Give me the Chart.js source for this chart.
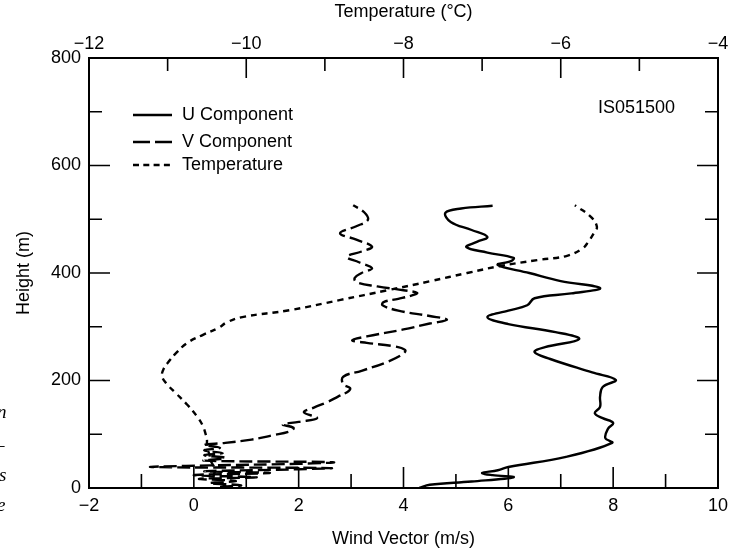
<!DOCTYPE html>
<html>
<head>
<meta charset="utf-8">
<script src="https://cdn.jsdelivr.net/npm/chart.js@4.4.1/dist/chart.umd.min.js"></script>
<style>
  body { margin: 0; background: #fff; }
  #wrap { width: 732px; height: 554px; position: relative; }
</style>
</head>
<body>
<div id="wrap"><canvas id="profileChart" width="732" height="554"></canvas></div>
<script>
// heights (m) and values
var uHeights = [0, 6, 12, 20, 24, 28, 33, 39, 58, 84, 93, 110, 121, 130, 139, 151, 170, 188, 201, 215, 240, 253, 262, 277, 290, 305, 318, 330, 340, 353, 362, 372, 385, 400, 415, 422, 428, 438, 448, 458, 467, 480, 495, 512, 520, 525];
var uWind = [4.3, 4.5, 5.3, 6.1, 5.7, 5.5, 5.8, 6.0, 7.1, 7.98, 7.85, 7.9, 8.0, 7.8, 7.65, 7.75, 7.75, 7.8, 8.05, 7.6, 6.8, 6.5, 6.7, 7.35, 6.9, 6.0, 5.6, 6.0, 6.36, 6.5, 7.2, 7.75, 7.0, 6.4, 5.8, 6.05, 6.1, 5.6, 5.2, 5.4, 5.6, 5.3, 4.9, 4.8, 5.1, 5.7];

var vHeights = [2, 5, 9, 13, 17, 20, 24, 28, 31, 34, 37, 39, 42, 45, 48, 51, 56, 61, 65, 70, 75, 80, 84, 90, 98, 106, 112, 118, 123, 130, 141, 150, 160, 170, 180, 186, 193, 207, 218, 235, 250, 257, 264, 270, 275, 282, 295, 306, 313, 320, 330, 340, 346, 352, 358, 363, 368, 375, 383, 391, 400, 409, 420, 430, 440, 449, 462, 474, 487, 499, 513, 526];
var vWind = [0.5, 0.9, 0.3, 0.8, 0.1, 1.2, 0.0, 1.45, 0.2, 1.6, 2.6, -0.8, 0.3, 2.0, 2.65, 0.2, 0.6, 0.2, 0.55, 0.2, 0.5, 0.2, 0.6, 1.1, 1.5, 1.85, 1.9, 1.7, 2.0, 2.35, 2.1, 2.3, 2.55, 2.75, 2.95, 2.98, 2.85, 2.85, 3.2, 3.7, 4.0, 4.03, 3.8, 3.3, 3.02, 3.3, 4.0, 4.5, 4.83, 4.5, 3.9, 3.6, 3.62, 3.9, 4.15, 4.26, 4.0, 3.5, 3.1, 3.07, 3.2, 3.4, 3.15, 2.92, 3.2, 3.4, 3.1, 2.79, 3.1, 3.32, 3.25, 3.04];

var tHeights = [20, 35, 50, 63, 76, 90, 102, 115, 132, 155, 177, 192, 207, 222, 238, 250, 270, 285, 298, 308, 318, 331, 350, 368, 385, 400, 413, 424, 432, 446, 458, 474, 486, 505, 526];
var tTemp = [-10.42, -10.4, -10.45, -10.47, -10.5, -10.5, -10.52, -10.55, -10.62, -10.75, -10.9, -11.0, -11.07, -11.05, -10.97, -10.9, -10.75, -10.55, -10.35, -10.25, -10.05, -9.44, -8.8, -8.2, -7.65, -7.19, -6.77, -6.3, -5.92, -5.72, -5.65, -5.58, -5.54, -5.62, -5.82];

var windTicks = [-2, 0, 2, 4, 6, 8, 10];
var tempTicks = [-12, -10, -8, -6, -4];
var heightTicks = [0, 200, 400, 600, 800];

function toPoints(xs, hs) {
    var pts = [];
    for (var i = 0; i < hs.length; i++) {
        pts.push({ x: xs[i], y: hs[i] });
    }
    return pts;
}

function minus(v) {
    return v < 0 ? '\u2212' + Math.abs(v) : '' + v;
}

var FONT = '"Liberation Sans", Arial, sans-serif';

// inward ticks on all four sides + frame, legend and label text
var framePlugin = {
    id: 'frame',
    afterDatasetsDraw: function (chart) {
        var ctx = chart.ctx;
        var a = chart.chartArea;
        var sx = chart.scales.x, sx2 = chart.scales.x2, sy = chart.scales.y;
        ctx.save();
        ctx.strokeStyle = '#000';
        ctx.lineWidth = 2;
        ctx.strokeRect(a.left, a.top, a.right - a.left, a.bottom - a.top);

        ctx.lineWidth = 1.6;
        ctx.beginPath();
        sx.ticks.forEach(function (t) {
            if (t.value <= sx.min || t.value >= sx.max) return;
            var px = sx.getPixelForValue(t.value);
            var len = windTicks.indexOf(t.value) >= 0 ? 21 : 14;
            ctx.moveTo(px, a.bottom);
            ctx.lineTo(px, a.bottom - len);
        });
        sx2.ticks.forEach(function (t) {
            if (t.value <= sx2.min || t.value >= sx2.max) return;
            var px = sx2.getPixelForValue(t.value);
            var len = tempTicks.indexOf(t.value) >= 0 ? 20 : 13;
            ctx.moveTo(px, a.top);
            ctx.lineTo(px, a.top + len);
        });
        sy.ticks.forEach(function (t) {
            if (t.value <= sy.min || t.value >= sy.max) return;
            var py = sy.getPixelForValue(t.value);
            var len = heightTicks.indexOf(t.value) >= 0 ? 21 : 13;
            ctx.moveTo(a.left, py);
            ctx.lineTo(a.left + len, py);
            ctx.moveTo(a.right, py);
            ctx.lineTo(a.right - len, py);
        });
        ctx.stroke();

        // legend inside the plot
        var rows = [
            { y: 115, dash: [] },
            { y: 142, dash: [17, 5] },
            { y: 165, dash: [6, 4.3] }
        ];
        ctx.font = '18px ' + FONT;
        ctx.fillStyle = '#000';
        ctx.textBaseline = 'middle';
        ctx.lineWidth = 2.4;
        chart.data.datasets.forEach(function (ds, i) {
            var r = rows[i];
            ctx.setLineDash(r.dash);
            ctx.beginPath();
            ctx.moveTo(133, r.y);
            ctx.lineTo(172, r.y);
            ctx.stroke();
            ctx.setLineDash([]);
            ctx.fillText(ds.label, 182, r.y);
        });

        ctx.textAlign = 'left';
        ctx.fillText('IS051500', 598, 108);

        // clipped letters from the page margin
        ctx.font = 'italic 19px "Liberation Serif", serif';
        ctx.fillText('n', -3, 413);
        ctx.fillText('\u2013', -5, 446);
        ctx.fillText('s', -1, 476);
        ctx.fillText('e', -3, 506);
        ctx.restore();
    }
};

var ctx = document.getElementById('profileChart').getContext('2d');
var chart = new Chart(ctx, {
    type: 'scatter',
    data: {
        datasets: [
            {
                label: 'U Component',
                data: toPoints(uWind, uHeights),
                xAxisID: 'x', yAxisID: 'y',
                showLine: true, borderColor: '#000', borderWidth: 2.4,
                pointRadius: 0, tension: 0.4
            },
            {
                label: 'V Component',
                data: toPoints(vWind, vHeights),
                xAxisID: 'x', yAxisID: 'y',
                showLine: true, borderColor: '#000', borderWidth: 2.4,
                borderDash: [13, 5],
                pointRadius: 0, tension: 0.4
            },
            {
                label: 'Temperature',
                data: toPoints(tTemp, tHeights),
                xAxisID: 'x2', yAxisID: 'y',
                showLine: true, borderColor: '#000', borderWidth: 2.4,
                borderDash: [6, 5],
                pointRadius: 0, tension: 0.4
            }
        ]
    },
    options: {
        responsive: false,
        animation: false,
        layout: { padding: { left: 0, right: 14, top: 0, bottom: 0 } },
        plugins: { legend: { display: false }, tooltip: { enabled: false } },
        scales: {
            x: {
                type: 'linear', position: 'bottom', min: -2, max: 10,
                grid: { display: false, drawTicks: false }, border: { display: false },
                ticks: {
                    stepSize: 1, padding: 7, color: '#000', font: { family: FONT, size: 18 },
                    maxRotation: 0, autoSkip: false,
                    callback: function (v) { return windTicks.indexOf(v) >= 0 ? minus(v) : ''; }
                },
                title: { display: true, text: 'Wind Vector (m/s)', color: '#000', font: { family: FONT, size: 18 }, padding: { top: 0, bottom: 4 } },
                afterFit: function (s) { s.height = 66; s.paddingLeft = 0; s.paddingRight = 0; }
            },
            x2: {
                type: 'linear', position: 'top', min: -12, max: -4,
                grid: { display: false, drawTicks: false }, border: { display: false },
                ticks: {
                    stepSize: 1, padding: 3, color: '#000', font: { family: FONT, size: 18 },
                    maxRotation: 0, autoSkip: false,
                    callback: function (v) { return tempTicks.indexOf(v) >= 0 ? minus(v) : ''; }
                },
                title: { display: true, text: 'Temperature (\u00B0C)', color: '#000', font: { family: FONT, size: 18 }, padding: { top: 1, bottom: 0 } },
                afterFit: function (s) { s.height = 58; s.paddingLeft = 0; s.paddingRight = 0; }
            },
            y: {
                type: 'linear', position: 'left', min: 0, max: 800,
                grid: { display: false, drawTicks: false }, border: { display: false },
                ticks: {
                    stepSize: 100, padding: 8, color: '#000', font: { family: FONT, size: 18 },
                    autoSkip: false,
                    callback: function (v) { return heightTicks.indexOf(v) >= 0 ? '' + v : ''; }
                },
                title: { display: true, text: 'Height (m)', color: '#000', font: { family: FONT, size: 18 }, padding: { top: 13, bottom: 0 } },
                afterFit: function (s) { s.width = 89; s.paddingTop = 0; s.paddingBottom = 0; }
            }
        }
    },
    plugins: [framePlugin]
});
</script>
</body>
</html>
